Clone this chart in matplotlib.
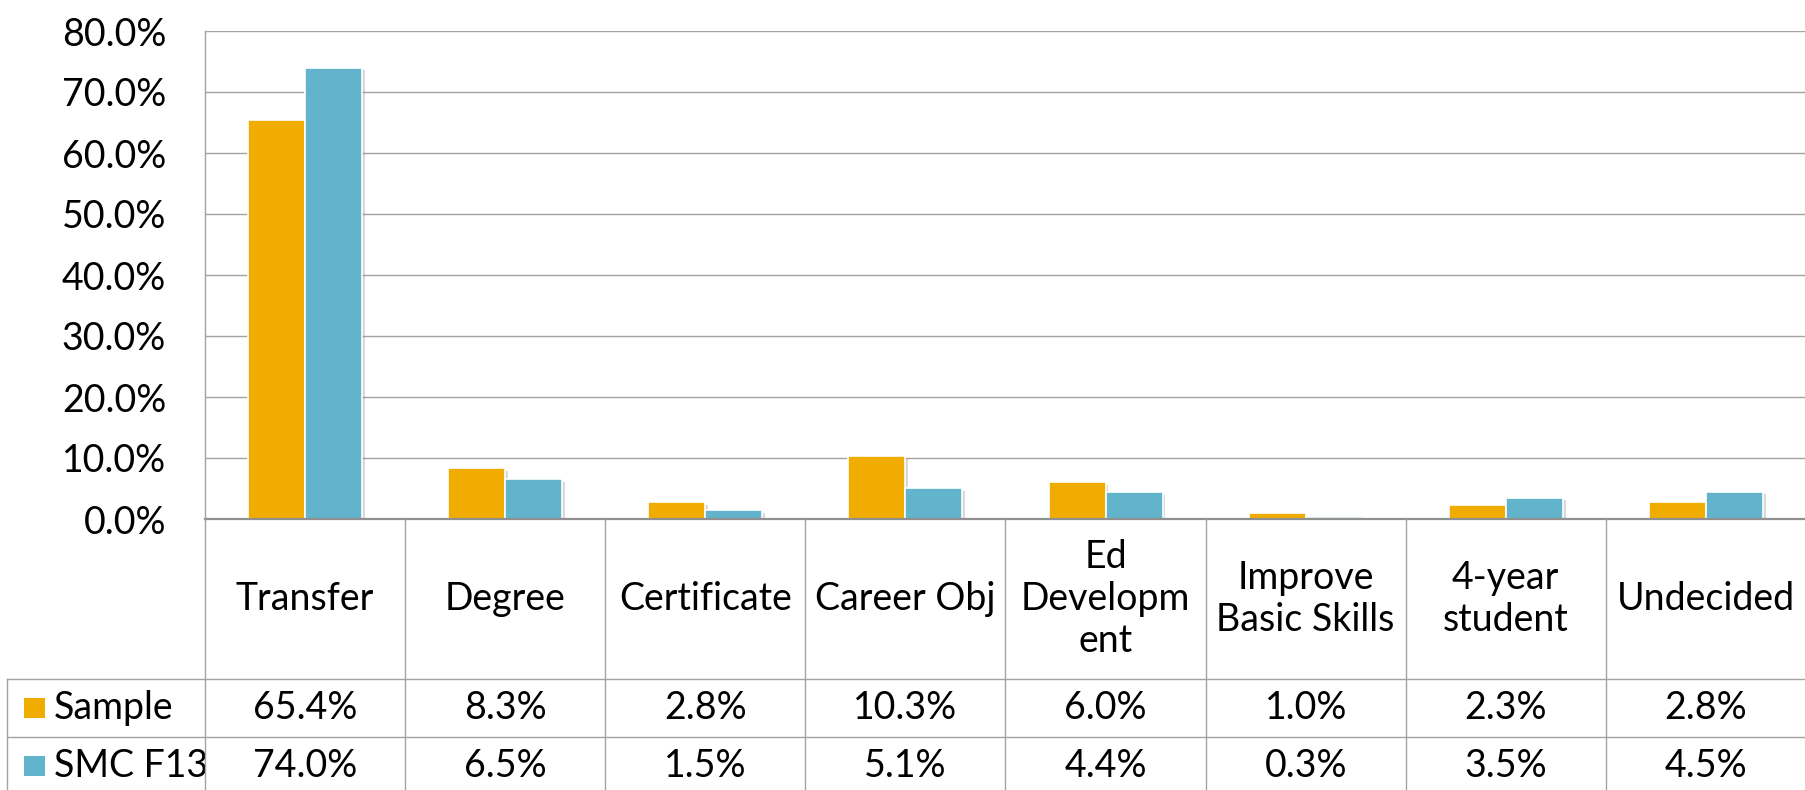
import matplotlib
matplotlib.use("Agg")
import matplotlib.pyplot as plt
from matplotlib.transforms import blended_transform_factory
from matplotlib.patches import Rectangle
import matplotlib.patheffects as pe

categories = ["Transfer", "Degree", "Certificate", "Career Obj",
              "Ed\nDevelopm\nent", "Improve\nBasic Skills", "4-year\nstudent", "Undecided"]
sample = [65.4, 8.3, 2.8, 10.3, 6.0, 1.0, 2.3, 2.8]
smc_f13 = [74.0, 6.5, 1.5, 5.1, 4.4, 0.3, 3.5, 4.5]
series_names = ["Sample", "SMC F13"]
yticks = [0, 10, 20, 30, 40, 50, 60, 70, 80]

ORANGE = "#F0AC00"
BLUE = "#62B3CC"
GRID = "#a3a3a3"
ZERO = "#8f8f8f"
FS = 27

plt.rcParams['font.family'] = ['Lato', 'DejaVu Sans']

W, H = 1806, 790
fig = plt.figure(figsize=(W / 100, H / 100), dpi=100)
ax_left, ax_right, ax_top, ax_zero = 205, 1806, 31, 519
ax = fig.add_axes([ax_left / W, (H - ax_zero) / H, (ax_right - ax_left) / W, (ax_zero - ax_top) / H])

n = len(categories)
bw = 0.285
xs = list(range(n))
shadow = [pe.SimplePatchShadow(offset=(2, -2), shadow_rgbFace=(0.4, 0.4, 0.4), alpha=0.25), pe.Normal()]
b1 = ax.bar([x - bw / 2 for x in xs], sample, width=bw, color=ORANGE, edgecolor="white", linewidth=1.2, zorder=3)
b2 = ax.bar([x + bw / 2 for x in xs], smc_f13, width=bw, color=BLUE, edgecolor="white", linewidth=1.2, zorder=3)
for b in list(b1) + list(b2):
    b.set_path_effects(shadow)

ax.set_xlim(-0.5, n - 0.5)
ax.set_ylim(0, 80)
ax.set_yticks(yticks)
ax.set_yticklabels([f"{v:.1f}%" for v in yticks], fontsize=FS)
ax.tick_params(axis='y', length=0, pad=28)
ax.set_xticks([])
ax.yaxis.grid(True, color=GRID, linewidth=1.0, zorder=0)
ax.set_axisbelow(True)
for s in ["top", "right", "bottom"]:
    ax.spines[s].set_visible(False)
ax.spines["left"].set_color(GRID)
ax.spines["left"].set_linewidth(1.0)

# Data table below
tr = blended_transform_factory(ax.transData, ax.transAxes)
axh = ax_zero - ax_top
y0 = 0.0
y_hdr = -160 / axh
y_s = -218 / axh
y_m = -276 / axh
colw = (ax_right - ax_left) / n
x_leg = -0.5 - (ax_left - 7) / colw
xr = n - 0.5

def hline(y, x1, x2, color=GRID, lw=1.0):
    ax.plot([x1, x2], [y, y], transform=tr, color=color, lw=lw, clip_on=False, zorder=5)

def vline(x, y1, y2, color=GRID, lw=1.0):
    ax.plot([x, x], [y1, y2], transform=tr, color=color, lw=lw, clip_on=False, zorder=5)

hline(y0, -0.5, xr, color=ZERO, lw=1.6)
hline(y_hdr, x_leg, xr)
hline(y_s, x_leg, xr)
hline(y_m, x_leg, xr)
vline(x_leg, y_hdr, y_m)
for i in range(n + 1):
    vline(i - 0.5, y0, y_m)

for i, c in enumerate(categories):
    ax.text(i, (y0 + y_hdr) / 2, c, transform=tr, ha='center', va='center',
            fontsize=FS, linespacing=1.2, clip_on=False)
    ax.text(i, (y_hdr + y_s) / 2, f"{sample[i]:.1f}%", transform=tr, ha='center', va='center',
            fontsize=FS, clip_on=False)
    ax.text(i, (y_s + y_m) / 2, f"{smc_f13[i]:.1f}%", transform=tr, ha='center', va='center',
            fontsize=FS, clip_on=False)

# legend keys in table
sq_w = 21 / colw
sq_h = 20 / axh
for name, color, (ya, yb) in zip(series_names, [ORANGE, BLUE], [(y_hdr, y_s), (y_s, y_m)]):
    yc = (ya + yb) / 2
    kx = -0.5 - (ax_left - 24) / colw
    ax.add_patch(Rectangle((kx, yc - sq_h / 2), sq_w, sq_h, transform=tr, facecolor=color,
                           edgecolor='none', clip_on=False, zorder=5))
    ax.text(-0.5 - (ax_left - 54) / colw, yc, name, transform=tr, ha='left', va='center',
            fontsize=FS, clip_on=False)

fig.savefig("out.png", dpi=100)
